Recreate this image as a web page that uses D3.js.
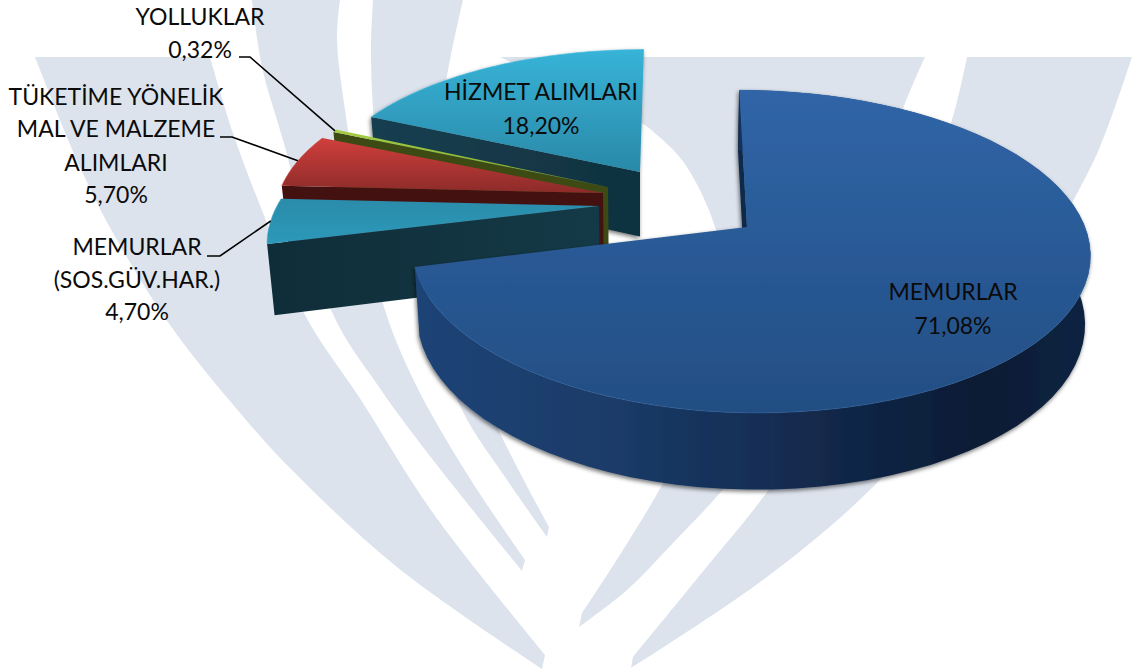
<!DOCTYPE html>
<html>
<head>
<meta charset="utf-8">
<script src="https://cdn.jsdelivr.net/npm/d3@7"></script>
<style>
html,body{margin:0;padding:0;background:#fff;}
svg{display:block;}
text{font-family:Lato,"Open Sans",sans-serif;font-size:23px;fill:#0b0b0b;text-anchor:middle;}
</style>
</head>
<body>
<svg id="c" width="1132" height="669"></svg>
<script>
// ---- data (clockwise from 12 o'clock) ----
const categories = ["MEMURLAR","MEMURLAR (SOS.GÜV.HAR.)","TÜKETİME YÖNELİK MAL VE MALZEME ALIMLARI","YOLLUKLAR","HİZMET ALIMLARI"];
const shares = [71.08,4.70,5.70,0.32,18.20];
const shareLabels = ["71,08%","4,70%","5,70%","0,32%","18,20%"];

// ---- scene layout: every exploded slice has its own apex and projected size ----
const sliceLayout = [
 {x:747,y:227,rl:332,rr:338,k:157.7,shear:9,drop:0,  top:["#3065A8","#234E83"],topY:[90,413],wall:[["0","#1E4476"],["0.3","#1A3B68"],["0.6","#12294B"],["0.85","#0C1B33"],["1","#102442"]],wallX:[414,1088],rim:"#3C76BA",rimOp:.35},
 {x:599,y:206,rl:322,rr:322,k:150,shear:-30,drop:3,  top:["#2A8CAA","#2D99BA"],topY:[199,246],wall:[["0","#0F2D38"],["1","#143A47"]],wallX:[267,602],rim:"#33A6CC",rimOp:.6},
 {x:603,y:193,rl:324,rr:324,k:147,shear:0,drop:0,    top:["#D03F3C","#8C2B29"],topY:[138,193],wall:[["0","#431110"],["1","#431110"]],wallX:[282,604],rim:"#D5453F",rimOp:.6},
 {x:608,y:187,rl:317,rr:317,k:147,shear:0,drop:0,    top:["#A3CC42","#7FA431"],topY:[132,187],wall:[["0","#3E4A14"],["1","#3E4A14"]],wallX:[333,609],rim:"#A3CC42",rimOp:.6},
 {x:640,y:172,rl:316,rr:316,k:141,shear:-4.5,drop:0, top:["#37B4D8","#2A89A8"],topY:[48,172],wall:[["0","#163F50"],["1","#10313F"]],wallX:[370,640],rim:"#3ABBE0",rimOp:.6}
];
const perspective = 0.152;

const labelLayout = [
 {lines:["MEMURLAR","71,08%"],x:953,y:[300,334]},
 {lines:["MEMURLAR","(SOS.GÜV.HAR.)","4,70%"],x:137,y:[255,288,320],elbow:[[207,256],[220,256]]},
 {lines:["TÜKETİME YÖNELİK","MAL VE MALZEME","ALIMLARI","5,70%"],x:116,y:[105,137,171,203],elbow:[[220,137],[232,137]]},
 {lines:["YOLLUKLAR","0,32%"],x:200,y:[25,58],elbow:[[239,57],[250,57]]},
 {lines:["HİZMET ALIMLARI","18,20%"],x:541,y:[100,134]}
];

// ---- watermark outline (left edge, right edge) ----
const watermark = [
 {a:[[35,57],[80,167],[113,233],[170,325],[235,407],[289,467],[397,567],[542,669]],b:[[210,57],[233,133],[263,213],[305,315],[361,400],[433,513],[545,655]]},
 {a:[[252,0],[262,67],[283,140],[332,312],[379,387],[433,460],[522,571]],b:[[340,0],[337,40],[345,110],[360,200],[384,307],[415,383],[469,477],[525,560]]},
 {a:[[373,0],[371,60],[378,150],[410,270],[462,410],[505,477],[547,537]],b:[[463,0],[445,90],[440,180],[445,280],[470,360],[500,433],[549,527]]},
 {a:[[645,125],[682,160],[716,230],[725,300],[715,380],[662,485],[623,550],[582,613]],b:[[925,57],[895,133],[880,230],[830,360],[720,493],[673,543],[627,590],[579,627]],head:[[500,57],[925,57]]},
 {a:[[967,57],[952,120],[900,260],[840,380],[767,492],[700,575],[633,657]],b:[[1132,57],[1100,147],[1070,207],[1000,340],[877,483],[767,577],[631,668]]}
];

const svg = d3.select("#c");
const defs = svg.append("defs");
const f = defs.append("filter").attr("id","sh").attr("x","-10%").attr("y","-10%").attr("width","120%").attr("height","120%");
f.append("feDropShadow").attr("dx",-1).attr("dy",2).attr("stdDeviation",2).attr("flood-color","#000").attr("flood-opacity",.55);

// watermark
const wmLine = d3.line().curve(d3.curveCatmullRom.alpha(.5));
const wmG = svg.append("g").attr("fill","#DDE3ED");
watermark.forEach(w=>{
  let d;
  if(w.head){
    d = "M"+w.head[0]+"L"+w.head[1]+wmLine(w.b).replace(/^M/,"L")+wmLine(w.a.slice().reverse()).replace(/^M/,"L")+"Z";
  } else {
    d = wmLine(w.a)+wmLine(w.b.slice().reverse()).replace(/^M/,"L")+"Z";
  }
  wmG.append("path").attr("d",d);
});

// pie angles
const arcs = d3.pie().sort(null).value(d=>d)(shares);

function project(s,theta,r){
  const u=Math.sin(theta)*r, v=-Math.cos(theta)*r, w=1-perspective*v;
  const sx=d3.scaleLinear().domain([-1,0,1]).range([-s.rl,0,s.rr]);
  const sy=d3.scaleLinear().domain([-1,1]).range([-s.k,s.k]);
  return [s.x+(sx(u)+s.shear*v)/w, s.y+sy(v)/w];
}
const line = d3.line();
const samples=(a,b)=>d3.range(0,73).map(i=>a+(b-a)*i/72);

// slices back to front
const order=[4,3,2,1,0];
order.forEach(i=>{
  const s=sliceLayout[i], a=arcs[i], g=svg.append("g");
  const base = p=>[640+(p[0]-640)*(p[0]>640?.988:.98), p[1]*1.05+56+s.drop];
  if(i===0||i===4) g.attr("filter","url(#sh)");
  const apex=[s.x,s.y];
  const outer=samples(a.startAngle,a.endAngle).map(t=>project(s,t,1));
  const tg=defs.append("linearGradient").attr("id","t"+i).attr("gradientUnits","userSpaceOnUse")
    .attr("x1",0).attr("x2",0).attr("y1",s.topY[0]).attr("y2",s.topY[1]);
  tg.append("stop").attr("offset",0).attr("stop-color",s.top[0]);
  tg.append("stop").attr("offset",1).attr("stop-color",s.top[1]);
  const wg=defs.append("linearGradient").attr("id","w"+i).attr("gradientUnits","userSpaceOnUse")
    .attr("x1",s.wallX[0]).attr("x2",s.wallX[1]).attr("y1",0).attr("y2",0);
  s.wall.forEach(st=>wg.append("stop").attr("offset",st[0]).attr("stop-color",st[1]));
  const wf=`url(#w${i})`;

  if(i===0){
    // cut wall at 12 o'clock, then rim wall
    const back=outer[0];
    g.append("path").attr("d",line([back,apex,base(apex),base(back)])+"Z").attr("fill","#10294C");
    g.append("path").attr("d",line(outer.concat(outer.map(base).reverse()))+"Z").attr("fill",wf);
  } else {
    // cut wall on the slice's leading edge
    const tip=outer[0];
    g.append("path").attr("d",line([tip,apex,base(apex),base(tip)])+"Z").attr("fill",wf);
  }
  g.append("path").attr("d",line([apex].concat(outer))+"Z").attr("fill",`url(#t${i})`);
  g.append("path").attr("d",line(outer)).attr("fill","none").attr("stroke",s.rim).attr("stroke-width",1).attr("stroke-opacity",s.rimOp);
});

// leader lines end on the rim at each slice's mid angle
labelLayout.forEach((l,i)=>{
  if(!l.elbow) return;
  const mid=(arcs[i].startAngle+arcs[i].endAngle)/2;
  const e=project(sliceLayout[i],mid,1);
  svg.append("path").attr("d",line(l.elbow.concat([e]))).attr("fill","none").attr("stroke","#000").attr("stroke-width",1.6);
});

// labels
labelLayout.forEach(l=>{
  l.lines.forEach((t,j)=>{
    svg.append("text").attr("x",l.x).attr("y",l.y[j]).text(t);
  });
});
</script>
</body>
</html>
